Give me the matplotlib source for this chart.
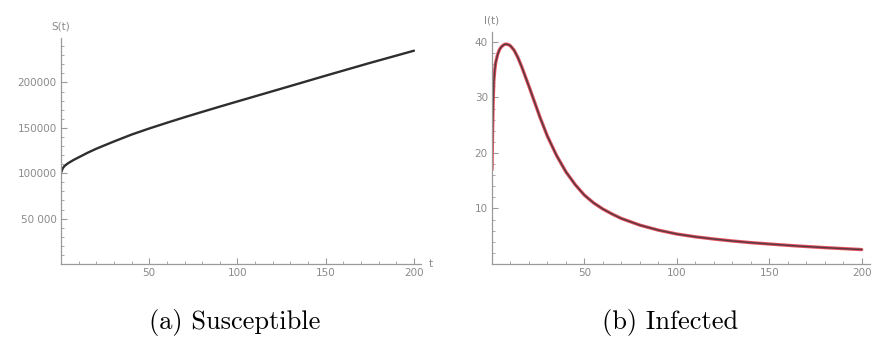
import matplotlib
matplotlib.use('Agg')
import matplotlib.pyplot as plt
from matplotlib.ticker import MultipleLocator, FixedLocator

# Susceptible curve S(t)
s_t = [0, 1, 2, 4, 7, 10, 15, 20, 25, 30, 40, 50, 60, 70, 80, 90, 100,
       115, 130, 150, 175, 200]
s_val = [100500, 105500, 108000, 111000, 114500, 117500, 122500, 127000,
         131000, 135000, 142600, 149300, 155600, 161700, 167600, 173400,
         179100, 187600, 196100, 207500, 221500, 235000]

# Infected curve I(t)
i_t = [0, 0.3, 0.6, 1, 1.5, 2, 3, 4, 5, 6, 7, 8, 9, 10, 12, 14, 16, 18, 20,
       23, 26, 30, 35, 40, 45, 50, 55, 60, 65, 70, 80, 90, 100, 110, 120,
       130, 140, 150, 165, 180, 200]
i_val = [17, 24, 29, 33, 35, 36.3, 37.7, 38.6, 39.1, 39.4, 39.6, 39.6, 39.5,
         39.3, 38.5, 37.2, 35.6, 33.8, 32.0, 29.2, 26.4, 23.0, 19.5, 16.6,
         14.3, 12.4, 11.0, 9.9, 9.0, 8.2, 7.0, 6.1, 5.4, 4.9, 4.5, 4.15,
         3.85, 3.6, 3.25, 2.95, 2.6]

s_yticks = [50000, 100000, 150000, 200000]
s_ylabels = ['50 000', '100000', '150000', '200000']
x_ticks = [50, 100, 150, 200]
i_yticks = [10, 20, 30, 40]

W, H = 878, 343
fig = plt.figure(figsize=(W / 100, H / 100), dpi=100)

axcol = '#9a9a9a'
labcol = '#8a8a8a'


def style(ax):
    for s in ['top', 'right']:
        ax.spines[s].set_visible(False)
    for s in ['left', 'bottom']:
        ax.spines[s].set_color(axcol)
        ax.spines[s].set_linewidth(0.9)
    ax.tick_params(which='major', direction='in', length=4, width=0.8,
                   color=axcol, labelcolor=labcol, labelsize=7.5, pad=3)
    ax.tick_params(which='minor', direction='in', length=2, width=0.6,
                   color=axcol)
    ax.patch.set_alpha(0)


# left panel
ax1 = fig.add_axes([61 / W, (H - 264) / H, (421 - 61) / W, (264 - 38) / H])
ax1.plot(s_t, s_val, color='#2e2e2e', lw=1.7, solid_capstyle='round',
         solid_joinstyle='round')
ax1.set_xlim(0, 204)
ax1.set_ylim(0, 249000)
ax1.xaxis.set_major_locator(FixedLocator(x_ticks))
ax1.xaxis.set_minor_locator(MultipleLocator(10))
ax1.set_yticks(s_yticks)
ax1.set_yticklabels(s_ylabels)
ax1.yaxis.set_minor_locator(MultipleLocator(10000))
style(ax1)
ax1.text(0, 1.03, 'S(t)', transform=ax1.transAxes, ha='center', va='bottom',
         fontsize=7.5, color=labcol)
ax1.text(1.02, 0, 't', transform=ax1.transAxes, ha='left', va='center',
         fontsize=7.5, color=labcol)

# right panel
ax2 = fig.add_axes([492 / W, (H - 264) / H, (870 - 492) / W, (264 - 32) / H])
ax2.plot(i_t, i_val, color='#e8505c', lw=2.4, solid_capstyle='round',
         solid_joinstyle='round')
ax2.plot(i_t, i_val, color='#5a3a42', lw=1.1, solid_capstyle='round',
         solid_joinstyle='round')
ax2.set_xlim(0, 204.5)
ax2.set_ylim(0, 41.8)
ax2.xaxis.set_major_locator(FixedLocator(x_ticks))
ax2.xaxis.set_minor_locator(MultipleLocator(10))
ax2.set_yticks(i_yticks)
ax2.yaxis.set_minor_locator(MultipleLocator(2))
style(ax2)
ax2.text(0, 1.03, 'I(t)', transform=ax2.transAxes, ha='center', va='bottom',
         fontsize=7.5, color=labcol)

# captions
fig.text(235 / W, 1 - 322 / H, '(a) Susceptible', ha='center', va='center',
         fontsize=19, family='cmr10')
fig.text(670 / W, 1 - 322 / H, '(b) Infected', ha='center', va='center',
         fontsize=19, family='cmr10')

fig.savefig('out.png', dpi=100)
